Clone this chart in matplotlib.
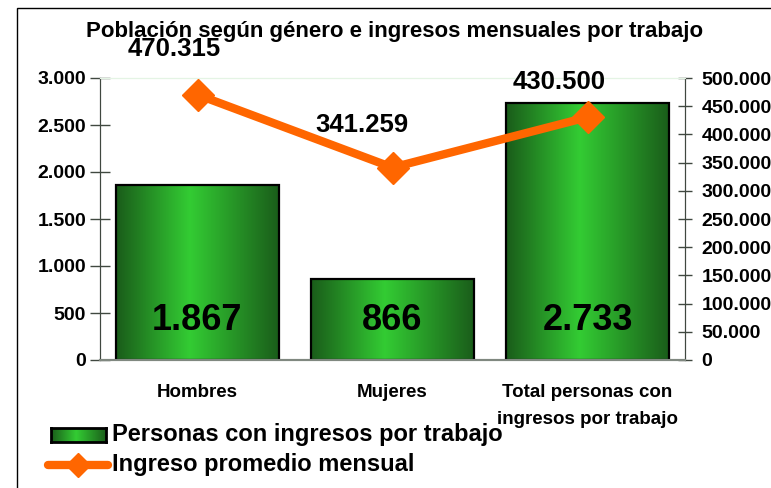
import numpy as np
import matplotlib
matplotlib.use('Agg')
import matplotlib.pyplot as plt
from matplotlib.colors import LinearSegmentedColormap
from matplotlib.patches import Rectangle
from matplotlib.lines import Line2D
from matplotlib.ticker import FuncFormatter, MultipleLocator

plt.rcParams['font.family'] = ['Liberation Sans', 'DejaVu Sans']
plt.rcParams['font.weight'] = 'bold'

# data
categories = ['Hombres', 'Mujeres', 'Total personas con\ningresos por trabajo']
personas = [1867, 866, 2733]
ingreso = [470315, 341259, 430500]
title = 'Población según género e ingresos mensuales por trabajo'
bar_label = 'Personas con ingresos por trabajo'
line_label = 'Ingreso promedio mensual'


def fmt_miles(v, pos=None):
    return '{:,.0f}'.format(v).replace(',', '.')


W, H = 771, 488
fig = plt.figure(figsize=(W / 100, H / 100), dpi=100)
ax = fig.add_axes([100 / W, 1 - 360 / H, 585 / W, 282 / H])
ax2 = ax.twinx()

green_cmap = LinearSegmentedColormap.from_list(
    'bar_green', [(0, '#1a5c1a'), (0.45, '#33cc33'), (1, '#1a5c1a')])
grad = np.linspace(0, 1, 256).reshape(1, -1)

x = np.arange(len(categories))
bw = 0.836
bars = ax.bar(x, personas, width=bw, color='none', edgecolor='black', linewidth=1.6, zorder=3)
for b in bars:
    im = ax.imshow(grad, cmap=green_cmap, aspect='auto', zorder=2,
                   extent=[b.get_x(), b.get_x() + b.get_width(), 0, b.get_height()])
    im.set_clip_path(b)

ax.set_xlim(-0.5, len(categories) - 0.5)
ax.set_ylim(0, 3000)
ax.yaxis.set_major_locator(MultipleLocator(500))
ax.yaxis.set_major_formatter(FuncFormatter(fmt_miles))
ax.set_xticks(x)
ax.set_xticklabels(categories, fontsize=13.5, fontweight='bold', linespacing=1.8)
ax.tick_params(axis='x', length=0, pad=17)
ax.tick_params(axis='y', direction='inout', length=14, width=1, color='#404840',
               labelsize=14, pad=3)

for xi, v in zip(x, personas):
    ax.annotate(fmt_miles(v), (xi, 0), xytext=(0, 40), textcoords='offset pixels',
                ha='center', va='center', fontsize=26, fontweight='bold', zorder=5)

ax2.plot(x, ingreso, color='#ff6600', linewidth=6, marker='D', markersize=16,
         solid_joinstyle='miter', zorder=4)
ax2.set_ylim(0, 500000)
ax2.yaxis.set_major_locator(MultipleLocator(50000))
ax2.yaxis.set_major_formatter(FuncFormatter(fmt_miles))
ax2.tick_params(axis='y', direction='inout', length=10, width=1, color='#404840',
                labelsize=14, pad=7)

label_offsets = [(-23, 46), (-31, 43), (-28, 35)]
for xi, v, off in zip(x, ingreso, label_offsets):
    ax2.annotate(fmt_miles(v), (xi, v), xytext=off, textcoords='offset pixels',
                 ha='center', va='center', fontsize=18.5, fontweight='bold')

for a in (ax, ax2):
    a.spines['top'].set_color('#e4f4e4')
    a.spines['left'].set_color('#404840')
    a.spines['right'].set_color('#404840')
    a.spines['bottom'].set_color('#808880')
    a.spines['bottom'].set_linewidth(1.5)

fig.text(395 / W, 1 - 31 / H, title, ha='center', va='center', fontsize=16, fontweight='bold')

# outer frame (cut off on the right and bottom)
fig.add_artist(Rectangle((17 / W, -0.1), 1.2, 1.1 - 8 / H, transform=fig.transFigure,
                         fill=False, edgecolor='black', linewidth=1))

# legend drawn by hand
lax = fig.add_axes([51 / W, 1 - 442 / H, 55 / W, 14 / H])
lax.imshow(grad, cmap=green_cmap, aspect='auto')
lax.set_xticks([])
lax.set_yticks([])
for s in lax.spines.values():
    s.set_linewidth(2)
    s.set_color('black')
fig.add_artist(Line2D([48 / W, 108 / W], [1 - 465 / H] * 2, transform=fig.transFigure,
                      color='#ff6600', linewidth=6, solid_capstyle='round'))
fig.add_artist(Line2D([78 / W], [1 - 465 / H], transform=fig.transFigure, marker='D',
                      markersize=12, color='#ff6600'))
fig.text(112 / W, 1 - 435 / H, bar_label, ha='left', va='center', fontsize=17, fontweight='bold')
fig.text(112 / W, 1 - 465 / H, line_label, ha='left', va='center', fontsize=17, fontweight='bold')

fig.savefig('out.png', dpi=100)
